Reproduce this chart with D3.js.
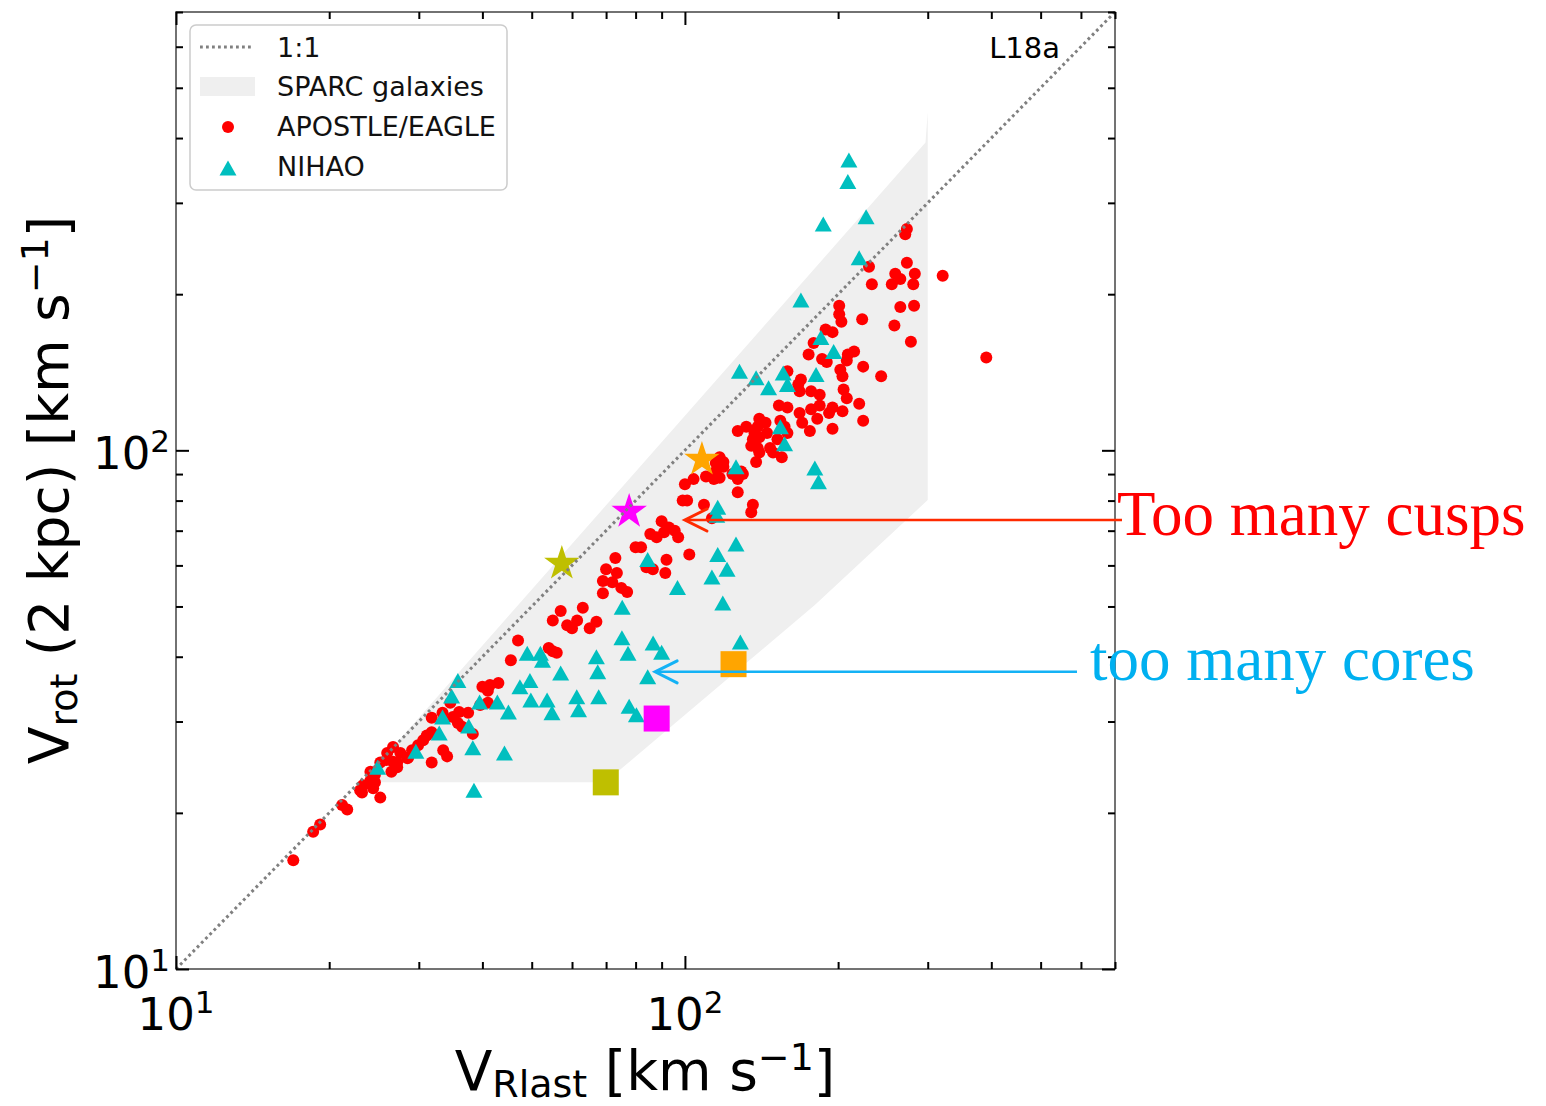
<!DOCTYPE html>
<html>
<head>
<meta charset="utf-8">
<script src="https://cdn.jsdelivr.net/npm/d3@7.9.0/dist/d3.min.js"></script>
<style>
  body { margin: 0; background: #fff; }
  svg text { font-family: "DejaVu Sans", sans-serif; white-space: pre; }
  svg text.serif { font-family: "Liberation Serif", "Times New Roman", serif; }
</style>
</head>
<body>
<svg id="chart" width="1546" height="1106"></svg>
<script>
// 1. Data: [V_Rlast, V_rot(2 kpc)] in km/s.
const apostleEagle = [
  [273,267],[271,261],[230,226],[273,230],[259,219],[255,209],[265,214],[283,219],[233,209],[281,209],[321,217],
  [265,189],[282,190],[201,190],[201,183],[203,177],[223,179],[258,174],[278,162],[391,151],
  [189,171],[195,169],[179,161],[186,150],[190,148],[175,153],[209,153],[215,155],[208,149],[224,145],[243,139],
  [202,143],[204,139],[159,142],[169,137],[167,134],[168,130],[177,130],[184,128],[205,131],[208,126],
  [153,122],[159,121],[168,118],[170,113],[177,120],[184,122],[195,121],[192,118],[204,119],[182,115],[220,123],
  [224,114],[195,110],[176,109],
  [127,109],[132,111],[140,115],[144,113],[139,111],[137,108],[140,106],[145,108],[154,114],[157,111],[152,105],[159,108],
  [135,102],[139,101],[147,101],[136,105],[140,99],[149,99],[155,97],[138,95],
  [117,97],[119,95],[124,90],[130,90],[115,94.5],[119,93],[115,91],[114,88],[117,88.5],[110,89],[127,88],[129,91],
  [100,86],[104,88],[127,83],[99,80],[101,80],[109,78.5],[136,78.5],[135,76],[113,74],
  [90,73],[93,71],[91,69.5],[95.5,70],[97,68],[85.5,69],[88,68],[102,63],[80,65],[82,65],[73,62],[92,61.5],
  [91.5,58],[86.5,59],[84,59.5],
  [70,59],[73.5,58],[72,55.7],[69,56],[75,54.3],[77,53.3],[69,53],
  [57,49],[63,49.7],[55,47],[58.7,46],[61.4,47],[60,45.4],[65,45.4],[67,46.7],
  [47,43],[54,41.6],[56,40.7],[55,41],[45.5,39.4],[43,35.6],[41.4,35.3],[40,35],[41,34.4],
  [34.6,32.6],[39.6,32.3],[41,32.6],[38.3,28.4],
  [31.8,30.5],[33.4,31.2],[36,31.3],[37.5,31.2],[35,30.6],[35.8,29.8],[36.5,29.3],[31.1,28.2],[31.8,28.6],
  [30.6,27.6],[33.5,26.4],[34.1,25.7],[31.8,25],
  [26.7,26.8],[26,26.1],[27.6,26.1],[29.1,26.4],[29.9,27],[28.6,25.6],[27.2,25],[25.9,25.3],[26.7,25.1],[25.2,25],
  [24.1,24],[24.6,23.7],[24.1,23.1],[24.6,22.9],[23.3,22.6],[23,22.1],[24.4,22.3],[25.2,21.4],[23.2,21.9],
  [21.2,20.7],[21.7,20.3],[19.2,19],[18.6,18.4],[17,16.2],[26.5,24],[27.2,24.5],[28.5,25.5]
];

const nihao = [
  [210,363],[209,330],[227,282],[187,273],[220,235],[169,195],[185,165],[196,155],
  [128,142],[138,138],[146,132],[156,141],[159,134],[181,140],[154,111],[157,103],[180,92.5],[183,87],
  [126,93],[116,77.7],[115.5,75],[126,66],[116,63],[121,59],[113,57],[84.5,61.6],[96.7,54.4],[118.7,50.8],
  [75.3,49.8],[128.5,42.7],[75.2,43.5],[77.3,40.6],[86.6,42.5],[90,40.8],[84.5,36.6],[67,40],[67.4,37.4],
  [57,37.2],[67.7,33.5],[61.3,33.5],[61.8,31.6],[77.7,32.1],[80.3,30.9],
  [49,40.6],[52,40.6],[52.5,39.4],[49.6,36],[47.4,35],[53.6,33],[54.8,31.2],[49.8,33],[45,31.3],[42.8,32.7],
  [39.5,32.7],[35.8,36],[34.8,33.6],[37.6,29.4],[33.4,30.6],[32.9,28.5],[38.3,26.7],[44.2,26.1],[29.6,26.3],
  [24.9,24.5],[38.5,22.1]
];

// outline of the SPARC region
const sparcBand = [[23.2,22.9],[297,392],[300,449],[300,80.2],[180,50.3],[69.7,22.9]];

// highlighted galaxies: stars and squares (olive, magenta, orange)
const starPoints = [[57.3,60.5],[77.7,76.2],[108,96]];
const squarePoints = [[69.9,22.9],[88,30.4],[124.6,38.7]];
const highlightColors = ['#bfbf00', '#ff00ff', '#ffa500'];

const legendLabels = ['1:1', 'SPARC galaxies', 'APOSTLE/EAGLE', 'NIHAO'];
const majorTicks = [10, 100];

// annotation arrows: tip in data units
const annotations = [
  { text: 'Too many cusps', tip: [100, 73.4], color: '#ff0000', arrow: '#ff2a00', tailX: 1122, textX: 1117, textY: 535 },
  { text: 'too many cores', tip: [87.4, 37.4], color: '#00b0f0', arrow: '#14b2f5', tailX: 1077, textX: 1090, textY: 680 }
];

// 2. Scales
const svg = d3.select('#chart');
const x = d3.scaleLog().domain([10, 700]).range([176, 1115]);
const y = d3.scaleLog().domain([10, 700]).range([969, 12]);

// 3. SPARC band
svg.append('path')
  .datum(sparcBand)
  .attr('d', d3.line().x(d => x(d[0])).y(d => y(d[1])).curve(d3.curveLinearClosed))
  .attr('fill', '#efefef');

// 4. APOSTLE/EAGLE dots
svg.append('g').selectAll('circle')
  .data(apostleEagle)
  .join('circle')
  .attr('cx', d => x(d[0]))
  .attr('cy', d => y(d[1]))
  .attr('r', 6)
  .attr('fill', '#ff0000');

// 5. NIHAO triangles
const triPath = 'M0,-7.5L8.5,7.5L-8.5,7.5Z';
svg.append('g').selectAll('path')
  .data(nihao)
  .join('path')
  .attr('d', triPath)
  .attr('transform', d => `translate(${x(d[0])},${y(d[1])})`)
  .attr('fill', '#00bfbf');

// 6. highlighted stars and squares
const star = d3.symbol().type(d3.symbolStar).size(390);
svg.append('g').selectAll('path')
  .data(starPoints)
  .join('path')
  .attr('d', star)
  .attr('transform', d => `translate(${x(d[0])},${y(d[1])})`)
  .attr('fill', (_, i) => highlightColors[i]);

svg.append('g').selectAll('rect')
  .data(squarePoints)
  .join('rect')
  .attr('x', d => x(d[0]) - 13)
  .attr('y', d => y(d[1]) - 13)
  .attr('width', 26)
  .attr('height', 26)
  .attr('fill', (_, i) => highlightColors[i]);

// 7. 1:1 line (drawn on top, like the original)
svg.append('line')
  .attr('x1', x(x.domain()[0])).attr('y1', y(y.domain()[0]))
  .attr('x2', x(x.domain()[1])).attr('y2', y(y.domain()[1]))
  .attr('stroke', '#808080')
  .attr('stroke-width', 3)
  .attr('stroke-dasharray', '2.8,3.2');

// 8. Frame and inward ticks on all four sides
svg.append('rect')
  .attr('x', 176).attr('y', 12).attr('width', 939).attr('height', 957)
  .attr('fill', 'none').attr('stroke', '#444').attr('stroke-width', 1.5);

const minorX = x.ticks().filter(t => !majorTicks.includes(t));
const minorY = y.ticks().filter(t => !majorTicks.includes(t));

function addTicks(axis, translate, values, len) {
  svg.append('g')
    .attr('transform', translate)
    .call(axis.tickValues(values).tickSizeInner(-len).tickSizeOuter(0).tickFormat(''))
    .call(g => g.select('.domain').remove())
    .call(g => g.selectAll('line').attr('stroke', '#000').attr('stroke-width', 2));
}
addTicks(d3.axisBottom(x), 'translate(0,969)', minorX, 7);
addTicks(d3.axisBottom(x), 'translate(0,969)', majorTicks, 13);
addTicks(d3.axisTop(x), 'translate(0,12)', minorX, 7);
addTicks(d3.axisTop(x), 'translate(0,12)', majorTicks, 13);
addTicks(d3.axisLeft(y), 'translate(176,0)', minorY, 7);
addTicks(d3.axisLeft(y), 'translate(176,0)', majorTicks, 13);
addTicks(d3.axisRight(y), 'translate(1115,0)', minorY, 7);
addTicks(d3.axisRight(y), 'translate(1115,0)', majorTicks, 13);

// tick labels like 10^1, 10^2
function powerLabel(sel, value) {
  sel.append('tspan').text('10');
  sel.append('tspan').attr('font-size', 31).attr('dy', -17).text(Math.round(Math.log10(value)));
}
majorTicks.forEach(t => {
  powerLabel(svg.append('text').attr('x', x(t)).attr('y', 1030)
    .attr('text-anchor', 'middle').attr('font-size', 45), t);
  powerLabel(svg.append('text').attr('x', 170).attr('y', y(t) + 19)
    .attr('text-anchor', 'end').attr('font-size', 45), t);
});

// 9. Axis labels
const xl = svg.append('text').attr('x', 645).attr('y', 1090)
  .attr('text-anchor', 'middle').attr('font-size', 55);
xl.append('tspan').text('V');
xl.append('tspan').attr('font-size', 38).attr('dy', 7).text('Rlast');
xl.append('tspan').attr('dy', -7).text(' [km s');
xl.append('tspan').attr('font-size', 38).attr('dy', -20).text('\u22121');
xl.append('tspan').attr('dy', 20).text(']');

const yl = svg.append('text').attr('transform', 'translate(68,490) rotate(-90)')
  .attr('text-anchor', 'middle').attr('font-size', 55);
yl.append('tspan').text('V');
yl.append('tspan').attr('font-size', 38).attr('dy', 9).text('rot');
yl.append('tspan').attr('dy', -9).text(' (2 kpc) [km s');
yl.append('tspan').attr('font-size', 38).attr('dy', -20).text('\u22121');
yl.append('tspan').attr('dy', 20).text(']');

// panel tag
svg.append('text').attr('x', 1060).attr('y', 58).attr('text-anchor', 'end')
  .attr('font-size', 29).text('L18a');

// 10. Legend
const legend = svg.append('g');
legend.append('rect')
  .attr('x', 190).attr('y', 25).attr('width', 317).attr('height', 165).attr('rx', 6)
  .attr('fill', '#fff').attr('fill-opacity', 0.8).attr('stroke', '#cccccc').attr('stroke-width', 1.5);

const rowY = [47, 86, 126, 166];
legend.append('line').attr('x1', 200).attr('x2', 252).attr('y1', rowY[0]).attr('y2', rowY[0])
  .attr('stroke', '#808080').attr('stroke-width', 3).attr('stroke-dasharray', '2.8,3.2');
legend.append('rect').attr('x', 200).attr('y', rowY[1] - 9).attr('width', 55).attr('height', 19)
  .attr('fill', '#efefef');
legend.append('circle').attr('cx', 228).attr('cy', rowY[2] + 1).attr('r', 6).attr('fill', '#ff0000');
legend.append('path').attr('d', triPath).attr('transform', `translate(228,${rowY[3] + 2})`).attr('fill', '#00bfbf');

legendLabels.forEach((label, i) => {
  legend.append('text').attr('x', 277).attr('y', rowY[i] + 10)
    .attr('font-size', 27).attr('fill', '#111').text(label);
});

// 11. Annotation arrows with text
annotations.forEach(a => {
  const tx = x(a.tip[0]);
  const ty = y(a.tip[1]);
  svg.append('line').attr('x1', a.tailX).attr('y1', ty).attr('x2', tx + 1).attr('y2', ty)
    .attr('stroke', a.arrow).attr('stroke-width', 2.5);
  svg.append('path')
    .attr('d', `M${tx + 22},${ty - 11}L${tx},${ty}L${tx + 22},${ty + 11}`)
    .attr('fill', 'none').attr('stroke', a.arrow).attr('stroke-width', 3)
    .attr('stroke-linecap', 'round').attr('stroke-linejoin', 'miter');
  svg.append('text').attr('class', 'serif')
    .attr('x', a.textX).attr('y', a.textY)
    .attr('font-size', 63).attr('fill', a.color).text(a.text);
});
</script>
</body>
</html>
